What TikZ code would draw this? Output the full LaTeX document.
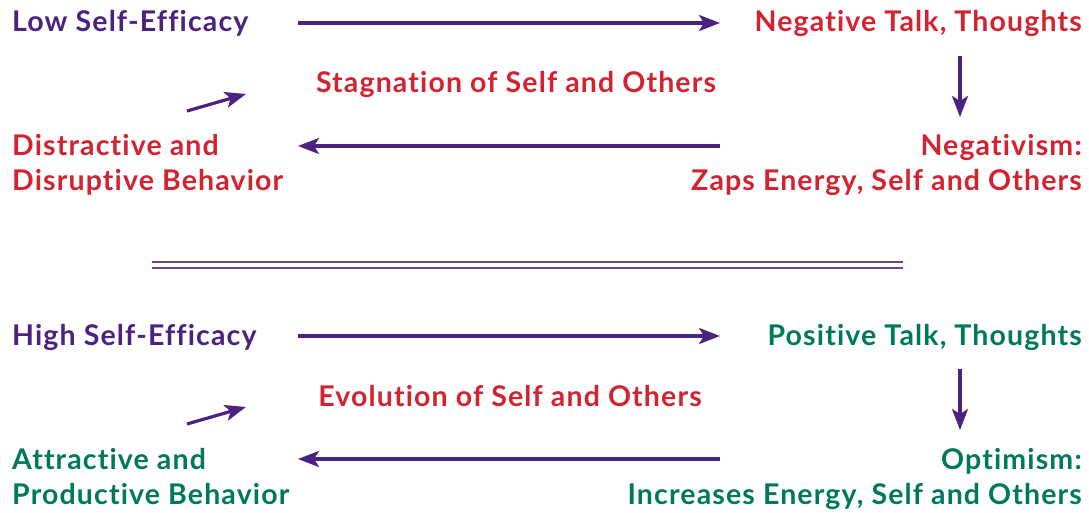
\documentclass[tikz,border=0pt]{standalone}
\usepackage{fontspec}
\setmainfont{Lato}[UprightFont=* Bold,LetterSpace=4,Ligatures=NoCommon]
\usetikzlibrary{arrows.meta}
\definecolor{cpurple}{HTML}{4B2280}
\definecolor{cred}{HTML}{D42330}
\definecolor{cgreen}{HTML}{00785C}
\begin{document}
\begin{tikzpicture}[x=1pt,y=-1pt,
  lbl/.style={inner sep=0pt,font=\fontsize{28.5}{35}\selectfont},
  lft/.style={lbl,anchor=base west},
  rgt/.style={lbl,anchor=base east},
  flow/.style={cpurple,line width=3.2pt,-{Stealth[length=21pt,width=16pt,inset=5pt]}},
  sep/.style={cpurple!85,line width=1.6pt}]
\useasboundingbox (0,0) rectangle (1089,513);
% cycle with low self-efficacy
\begin{scope}
  \node[lft,cpurple] (low) at (12,32) {Low Self-Efficacy};
  \node[rgt,cred] (negtalk) at (1082,32) {Negative Talk, Thoughts};
  \node[lbl,cred,anchor=base] (stag) at (516,93) {Stagnation of Self and Others};
  \node[lft,cred] (distrA) at (12,156) {Distractive and};
  \node[lft,cred] (distrB) at (12,191) {Disruptive Behavior};
  \node[rgt,cred] (negismA) at (1082,156) {Negativism:};
  \node[rgt,cred] (negismB) at (1082,191) {Zaps Energy, Self and Others};
  \coordinate (a1s) at (298,23);  \coordinate (a1e) at (720,23);
  \coordinate (a2s) at (960,56);  \coordinate (a2e) at (960,117);
  \coordinate (a3s) at (720,146); \coordinate (a3e) at (298,146);
  \coordinate (a4s) at (187,111); \coordinate (a4e) at (246,94);
  \draw[flow] (a1s) -- (a1e);
  \draw[flow] (a2s) -- (a2e);
  \draw[flow] (a3s) -- (a3e);
  \draw[flow] (a4s) -- (a4e);
\end{scope}
% separator
\coordinate (sepL) at (152,262); \coordinate (sepR) at (903,262);
\draw[sep] (sepL) -- (sepR);
\draw[sep] ([yshift=-6pt]sepL) -- ([yshift=-6pt]sepR);
% cycle with high self-efficacy
\begin{scope}[yshift=-313pt]
  \node[lft,cpurple] (high) at (12,32) {High Self-Efficacy};
  \node[rgt,cgreen] (postalk) at (1082,32) {Positive Talk, Thoughts};
  \node[lbl,cred,anchor=base] (evol) at (510,93) {Evolution of Self and Others};
  \node[lft,cgreen] (attrA) at (12,156) {Attractive and};
  \node[lft,cgreen] (attrB) at (12,191) {Productive Behavior};
  \node[rgt,cgreen] (optimA) at (1082,156) {Optimism:};
  \node[rgt,cgreen] (optimB) at (1082,191) {Increases Energy, Self and Others};
  \coordinate (b1s) at (298,23);  \coordinate (b1e) at (720,23);
  \coordinate (b2s) at (960,56);  \coordinate (b2e) at (960,117);
  \coordinate (b3s) at (720,146); \coordinate (b3e) at (298,146);
  \coordinate (b4s) at (187,111); \coordinate (b4e) at (246,94);
  \draw[flow] (b1s) -- (b1e);
  \draw[flow] (b2s) -- (b2e);
  \draw[flow] (b3s) -- (b3e);
  \draw[flow] (b4s) -- (b4e);
\end{scope}
\end{tikzpicture}
\end{document}
